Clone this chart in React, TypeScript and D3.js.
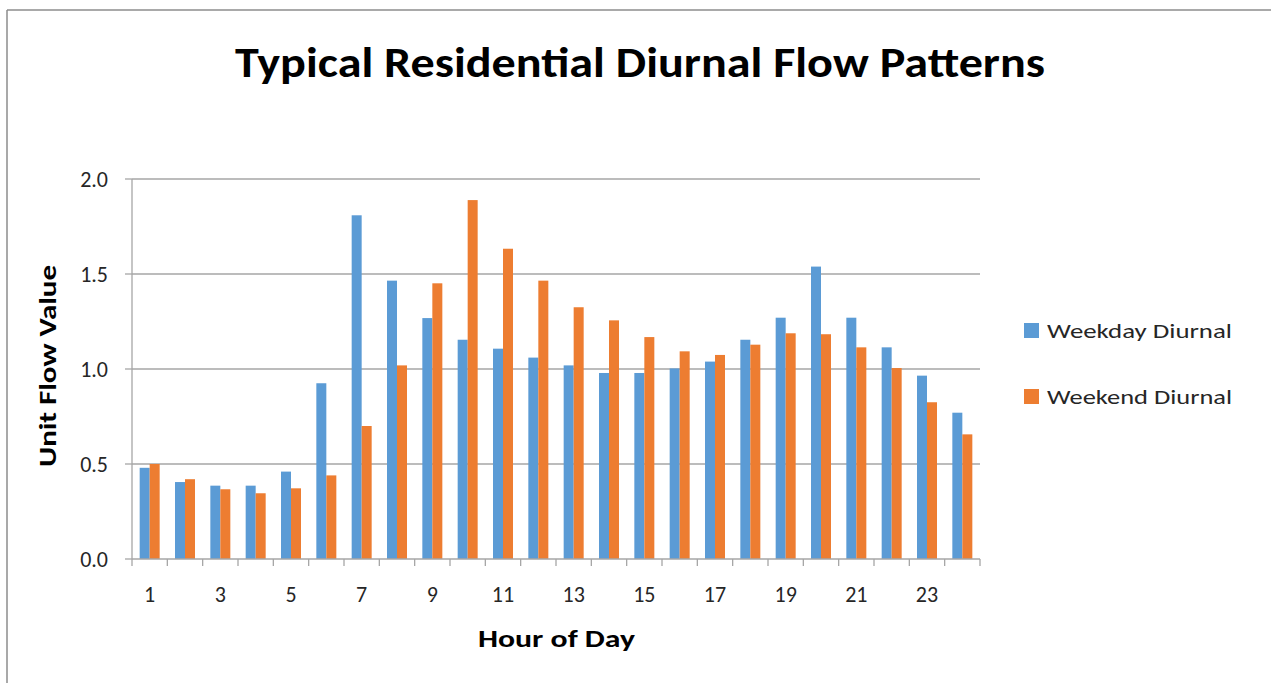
import React from "react";
import * as d3 from "d3";

const hours = Array.from({ length: 24 }, (_, i) => String(i + 1));
const weekday = [0.48, 0.405, 0.386, 0.386, 0.46, 0.925, 1.809, 1.465, 1.268, 1.154, 1.107, 1.06, 1.019, 0.979, 0.979, 1.003, 1.039, 1.154, 1.27, 1.539, 1.27, 1.114, 0.965, 0.77];
const weekend = [0.5, 0.42, 0.367, 0.346, 0.372, 0.44, 0.7, 1.019, 1.451, 1.889, 1.633, 1.465, 1.325, 1.256, 1.168, 1.093, 1.074, 1.128, 1.188, 1.183, 1.114, 1.005, 0.825, 0.656];
const seriesNames = ["Weekday Diurnal", "Weekend Diurnal"];
const seriesColors = ["#5B9BD5", "#ED7D31"];
const yTicks = [0, 0.5, 1.0, 1.5, 2.0];

const W = 1271;
const H = 683;
const FONT = "Carlito, Calibri, Lato, 'Open Sans', sans-serif";

export default function App() {
  const left = 132, right = 980, top = 179, bottom = 559;
  const x = d3.scaleBand<string>().domain(hours).range([left, right]).paddingInner(0.434).paddingOuter(0.217);
  const inner = d3.scaleBand<number>().domain([0, 1]).range([0, x.bandwidth()]);
  const y = d3.scaleLinear().domain([0, 2]).range([bottom, top]);
  const step = x.step();
  const boundaries = d3.range(hours.length + 1).map((i) => left + i * step);
  const data = [weekday, weekend];

  return (
    <svg width={W} height={H} style={{ position: "absolute", left: 0, top: 0, background: "#fff" }}>
      <rect x={0} y={0} width={W} height={H} fill="#fff" />
      <line x1={7} y1={10} x2={W} y2={10} stroke="#8c8c8c" strokeWidth={1.5} />
      <line x1={7} y1={10} x2={7} y2={H} stroke="#8c8c8c" strokeWidth={1.5} />

      <text x={640} y={77} textAnchor="middle" fontFamily={FONT} fontWeight="bold" fontSize={42} textLength={810} lengthAdjust="spacingAndGlyphs" fill="#000">
        Typical Residential Diurnal Flow Patterns
      </text>

      {yTicks.map((t) => (
        <g key={t}>
          {t > 0 && <line x1={left} x2={right} y1={y(t)} y2={y(t)} stroke="#a6a6a6" strokeWidth={1.3} />}
          <line x1={left - 7} x2={left} y1={y(t)} y2={y(t)} stroke="#a6a6a6" strokeWidth={1.3} />
          <text x={108} y={y(t)} dy="0.36em" textAnchor="end" fontFamily={FONT} fontSize={22} fill="#262626">
            {t.toFixed(1)}
          </text>
        </g>
      ))}

      {data.map((vals, si) =>
        vals.map((v, i) => (
          <rect
            key={`${si}-${i}`}
            x={(x(hours[i]) as number) + (inner(si) as number)}
            y={y(v)}
            width={inner.bandwidth()}
            height={y(0) - y(v)}
            fill={seriesColors[si]}
          />
        ))
      )}

      <line x1={left} x2={left} y1={top} y2={bottom} stroke="#a6a6a6" strokeWidth={1.3} />
      <line x1={left} x2={right} y1={bottom} y2={bottom} stroke="#a6a6a6" strokeWidth={1.3} />
      {boundaries.map((bx, i) => (
        <line key={i} x1={bx} x2={bx} y1={bottom} y2={bottom + 7} stroke="#a6a6a6" strokeWidth={1.3} />
      ))}
      {hours.map((h, i) =>
        i % 2 === 0 ? (
          <text key={h} x={(x(h) as number) + x.bandwidth() / 2} y={602} textAnchor="middle" fontFamily={FONT} fontSize={22} fill="#262626">
            {h}
          </text>
        ) : null
      )}

      <text x={556.5} y={647} textAnchor="middle" fontFamily={FONT} fontWeight="bold" fontSize={25} textLength={157} lengthAdjust="spacingAndGlyphs" fill="#000">
        Hour of Day
      </text>
      <text transform="translate(56,366) rotate(-90)" textAnchor="middle" fontFamily={FONT} fontWeight="bold" fontSize={24} textLength={202} lengthAdjust="spacingAndGlyphs" fill="#000">
        Unit Flow Value
      </text>

      {seriesNames.map((n, i) => (
        <g key={n} transform={`translate(1024, ${323 + i * 66})`}>
          <rect x={0} y={0} width={15} height={15} fill={seriesColors[i]} />
          <text x={23} y={15} fontFamily={FONT} fontSize={20} textLength={185} lengthAdjust="spacingAndGlyphs" fill="#262626">
            {n}
          </text>
        </g>
      ))}
    </svg>
  );
}
